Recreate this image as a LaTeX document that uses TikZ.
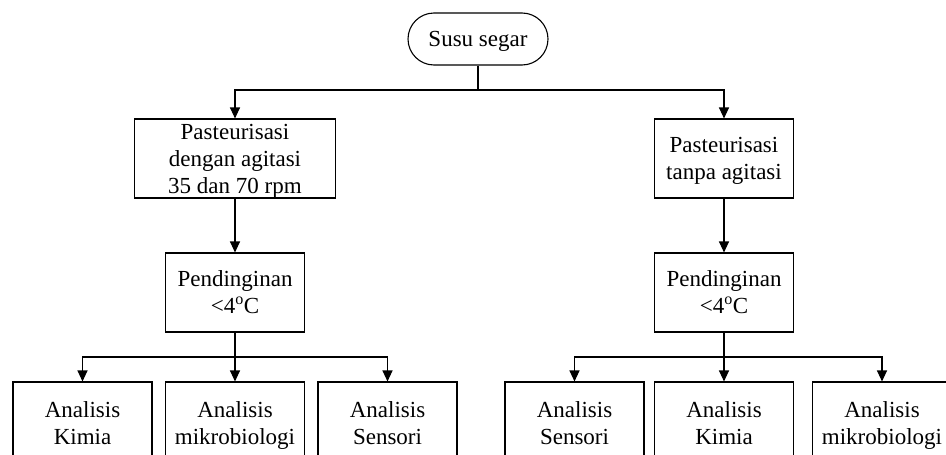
\documentclass[tikz,border=0pt]{standalone}
\usepackage{fontspec}
\setmainfont{Liberation Serif}
\usetikzlibrary{arrows.meta,shapes.misc}
\newcommand\mystrut{\rule[-5pt]{0pt}{25pt}}
\begin{document}
\begin{tikzpicture}[x=1pt,y=-1pt,
  line width=1.1pt,
  every node/.style={font=\fontsize{23}{27}\selectfont, align=center, inner sep=0pt},
  box/.style={draw, rectangle, minimum width=139pt},
  arr/.style={-{Triangle[width=10pt,length=11pt]}}]
\clip (0,0) rectangle (946,455);
\fill[white] (0,0) rectangle (946,455);
\node[draw, rounded rectangle, minimum width=140pt, minimum height=52pt] (susu) at (478,39) {\mystrut Susu segar};
\coordinate (j1) at (478,90);
\node[box, minimum width=201pt, minimum height=79pt] (pl) at (235,158.5) {\mystrut Pasteurisasi\\\mystrut dengan agitasi\\\mystrut 35 dan 70 rpm};
\node[box, minimum width=139pt, minimum height=79pt] (pr) at (724,158.5) {\mystrut Pasteurisasi\\\mystrut tanpa agitasi};
\node[box, minimum height=79pt] (cl) at (235,292.5) {\mystrut Pendinginan\\\mystrut <4\textsuperscript{o}C};
\node[box, minimum height=79pt] (cr) at (724,292.5) {\mystrut Pendinginan\\\mystrut <4\textsuperscript{o}C};
\coordinate (j2) at (235,357);
\coordinate (j3) at (724,357);
\node[box, minimum height=82pt] (b1) at (82.5,423) {\mystrut Analisis\\\mystrut Kimia};
\node[box, minimum height=82pt] (b2) at (235,423) {\mystrut Analisis\\\mystrut mikrobiologi};
\node[box, minimum height=82pt] (b3) at (387.5,423) {\mystrut Analisis\\\mystrut Sensori};
\node[box, minimum height=82pt] (b4) at (574.5,423) {\mystrut Analisis\\\mystrut Sensori};
\node[box, minimum height=82pt] (b5) at (724,423) {\mystrut Analisis\\\mystrut Kimia};
\node[box, minimum height=82pt] (b6) at (882,423) {\mystrut Analisis\\\mystrut mikrobiologi};
\draw (susu.south) -- (j1);
\draw[arr] (j1) -| (pl.north);
\draw[arr] (j1) -| (pr.north);
\draw[arr] (pl.south) -- (cl.north);
\draw[arr] (pr.south) -- (cr.north);
\draw (cl.south) -- (j2);
\draw (cr.south) -- (j3);
\draw[arr] (j2) -| (b1.north);
\draw[arr] (j2) -- (b2.north);
\draw[arr] (j2) -| (b3.north);
\draw[arr] (j3) -| (b4.north);
\draw[arr] (j3) -- (b5.north);
\draw[arr] (j3) -| (b6.north);
\end{tikzpicture}
\end{document}
